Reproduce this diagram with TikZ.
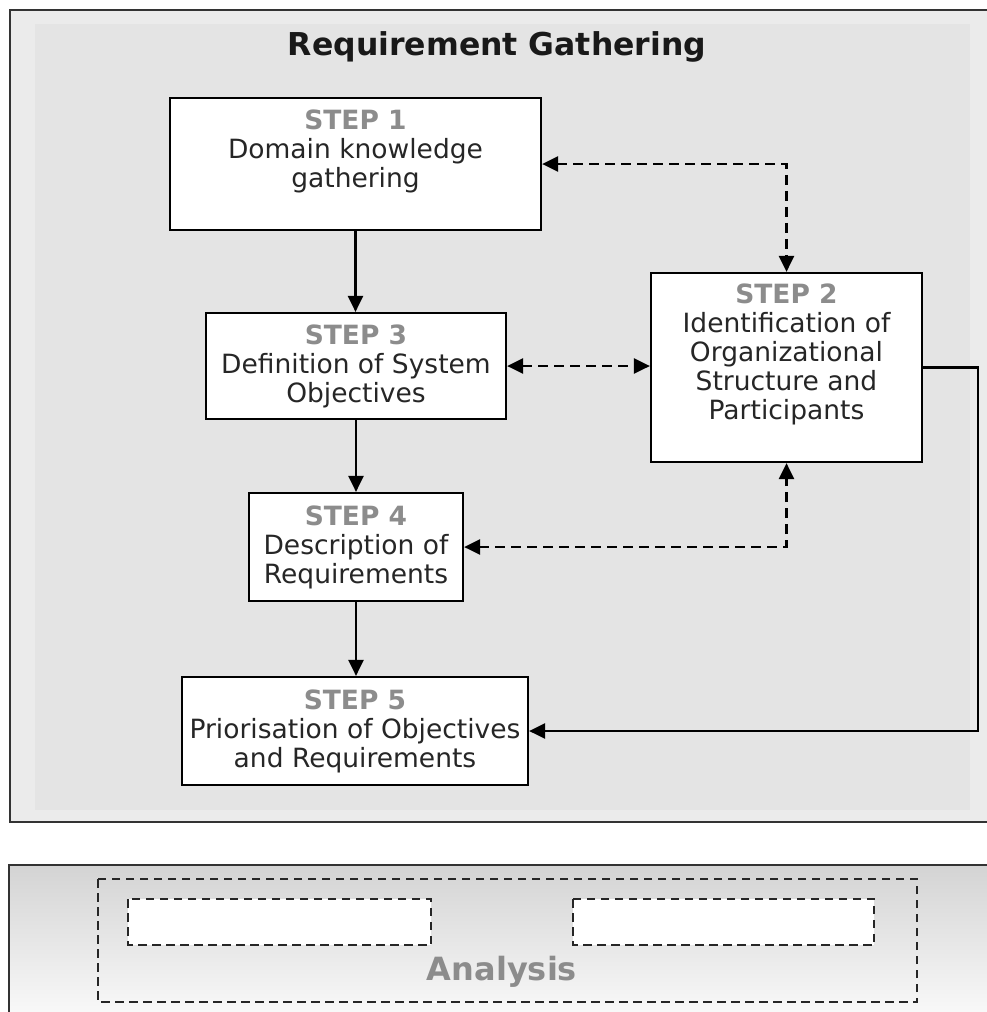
\documentclass[tikz,border=0pt]{standalone}
\usepackage{fontspec}
\setmainfont{DejaVu Sans}
\usepackage{xcolor}
\usetikzlibrary{arrows.meta,positioning,calc}
\definecolor{panelgray}{HTML}{EBEBEB}
\definecolor{innergray}{HTML}{E4E4E4}
\definecolor{stepgray}{HTML}{8C8C8C}
\definecolor{framegray}{HTML}{333333}
\newcommand{\steplabel}[1]{{\bfseries\color{stepgray}STEP #1}}

\begin{document}
\begin{tikzpicture}[x=1pt,y=-1pt,
    stepbox/.style={draw=black,line width=2.2pt,fill=white,align=center,text=black!85,
      font=\fontsize{26.5}{29}\selectfont,inner sep=0pt},
    flowline/.style={line width=2.3pt,-{Triangle[length=16pt,width=15pt]}},
    linkline/.style={line width=2.6pt,dash pattern=on 10pt off 6pt,
      {Triangle[length=16pt,width=15pt]}-{Triangle[length=16pt,width=15pt]}},
    holder/.style={line width=2.6pt,draw=black!85,dash pattern=on 8.5pt off 5.5pt}]
    \useasboundingbox (0,0) rectangle (987,1012);
    \clip (0,0) rectangle (987,1012);

    % Top panel: Requirement Gathering
    \draw[framegray,line width=2.8pt,fill=panelgray] (10,10) rectangle (1005,822);
    \fill[innergray] (35,24) rectangle (970,810);
    \node[font=\bfseries\fontsize{31.5}{34}\selectfont,text=black!90] (title) at (497,47) {Requirement Gathering};

    \node[stepbox,minimum width=371pt,minimum height=132pt] (step1) at (355.5,164)
        {\steplabel{1}\\Domain knowledge\\gathering\\[-7pt]\strut};
    \node[stepbox,minimum width=271pt,minimum height=189pt] (step2) at (786.5,367.5)
        {\steplabel{2}\\Identification of\\Organizational\\Structure and\\Participants\\[-7pt]\strut};
    \node[stepbox,minimum width=300pt,minimum height=106pt] (step3) at (356,366)
        {\steplabel{3}\\Definition of System\\Objectives};
    \node[stepbox,minimum width=214pt,minimum height=108pt] (step4) at (356,547)
        {\steplabel{4}\\Description of\\Requirements};
    \node[stepbox,minimum width=346pt,minimum height=108pt] (step5) at (355,731)
        {\steplabel{5}\\Priorisation of Objectives\\and Requirements};
    \coordinate (turn) at (978,731);

    % main flow
    \draw[flowline] (step1.south) -- (step1.south |- step3.north);
    \draw[flowline] (step3.south) -- (step3.south |- step4.north);
    \draw[flowline] (step4.south) -- (step4.south |- step5.north);
    \draw[flowline] (step2.east) -| (turn) -- (step5.east);

    % links to step 2
    \draw[linkline] (step1.east) -| (step2.north);
    \draw[linkline] (step3.east) -- (step3.east -| step2.west);
    \draw[linkline] (step4.east) -| (step2.south);

    % Bottom panel: Analysis
    \draw[framegray,line width=2.8pt,top color=black!17,bottom color=white] (9,865) rectangle (1005,1040);
    \draw[holder] (98,879) rectangle (917,1002);
    \draw[holder,fill=white] (128,899) rectangle (431,945);
    \draw[holder,fill=white] (573,899) rectangle (874,945);
    \node[font=\bfseries\fontsize{32}{34}\selectfont,text=stepgray] (analysis) at (502,972) {Analysis};
\end{tikzpicture}
\end{document}
